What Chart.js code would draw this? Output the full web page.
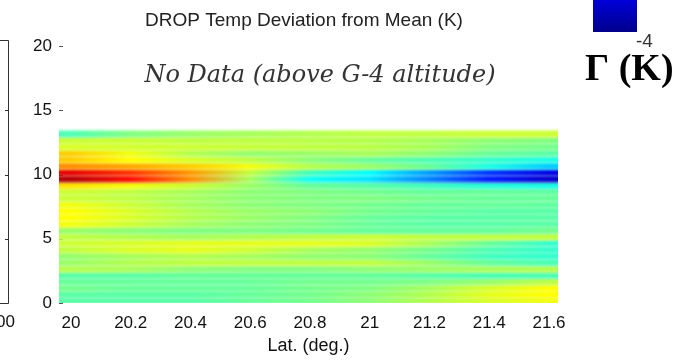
<!DOCTYPE html>
<html>
<head>
<meta charset="utf-8">
<script src="https://cdn.jsdelivr.net/npm/chart.js@4.4.1/dist/chart.umd.min.js"></script>
<style>
  html, body { margin: 0; padding: 0; background: #fff; }
  #wrap { width: 677px; height: 361px; position: relative; }
</style>
</head>
<body>
<div id="wrap"><canvas id="c"></canvas></div>
<script>
// latitude columns of the field (deg) and altitude rows (km, row centres)
const lats = [20.0, 20.2, 20.4, 20.6, 20.8, 21.0, 21.2, 21.4, 21.6];
const alts = [0.15, 0.65, 1.15, 1.65, 2.15, 2.65, 3.15, 3.65, 4.15, 4.65, 5.15, 5.65, 6.15,
              6.65, 7.15, 7.65, 8.15, 8.65, 9.15, 9.65, 10.15, 10.65, 11.15, 11.65, 12.15, 12.65, 13.15];

// temperature deviation from mean (K), one array per latitude, bottom -> top
const dev200 = [-0.3,-0.3,-0.1,-0.2,-0.3,0.4,0.2,0.15,0.5,0.6,0.5,0.2,0.9,1.0,1.0,0.9,0.6,0.6,1.2,3.6,3.2,1.9,1.4,1.4,0.7,0.6,-0.4];
const dev202 = [-0.3,-0.3,-0.2,-0.2,-0.3,0.3,0.4,0.3,0.7,0.7,0.4,0.1,0.6,0.7,0.7,0.6,0.5,0.5,0.9,2.9,2.6,1.7,1.0,0.9,0.65,0.6,0.0];
const dev204 = [-0.3,-0.3,-0.2,-0.2,-0.2,0.1,0.5,0.4,0.8,0.8,0.3,0.0,0.3,0.4,0.4,0.3,0.3,0.3,0.6,1.9,1.8,1.4,0.7,0.4,0.6,0.5,0.2];
const dev206 = [-0.2,-0.2,-0.2,-0.2,-0.2,0.0,0.5,0.3,0.6,0.8,0.4,0.0,0.1,0.2,0.2,0.1,0.1,0.1,0.2,0.3,0.5,0.9,0.5,0.15,0.55,0.5,0.3];
const dev208 = [-0.1,-0.1,-0.1,-0.1,-0.2,0.0,0.5,0.15,0.3,0.8,0.5,-0.1,0.0,0.0,0.1,0.0,0.0,0.0,-0.2,-0.9,-0.5,0.4,0.1,0.2,0.5,0.45,0.4];
const dev210 = [0.1,0.1,0.0,-0.1,-0.2,0.1,0.5,0.1,0.15,0.7,0.6,-0.2,-0.2,-0.2,-0.1,-0.1,0.0,-0.1,-0.3,-1.2,-1.0,0.2,-0.2,0.3,0.45,0.4,0.5];
const dev212 = [0.4,0.4,0.3,0.0,-0.3,0.2,0.2,-0.2,-0.1,0.3,0.5,-0.2,-0.3,-0.3,-0.2,-0.2,-0.1,-0.2,-0.5,-2.0,-1.8,-0.2,-0.4,0.1,0.3,0.3,0.5];
const dev214 = [0.7,0.8,0.7,0.2,-0.4,0.3,-0.2,-0.5,-0.4,-0.2,0.5,-0.2,-0.3,-0.3,-0.3,-0.2,-0.2,-0.2,-0.7,-2.8,-2.6,-0.8,-0.6,-0.2,0.0,0.1,0.6];
const dev216 = [0.9,1.0,1.0,0.5,-0.4,0.4,-0.4,-0.6,-0.6,-0.6,0.5,-0.1,-0.3,-0.3,-0.3,-0.25,-0.2,-0.25,-0.8,-3.4,-3.2,-1.4,-0.8,-0.3,-0.1,0.0,0.6];
const columns = [dev200, dev202, dev204, dev206, dev208, dev210, dev212, dev214, dev216];

const xTicks = [20, 20.2, 20.4, 20.6, 20.8, 21, 21.2, 21.4, 21.6];
const yTicks = [0, 5, 10, 15, 20];
const cmin = -4, cmax = 4;

function clamp01(v) { return Math.min(1, Math.max(0, v)); }
function jet(v) {
    const t = clamp01((v - cmin) / (cmax - cmin));
    const r = clamp01(1.5 - Math.abs(4 * t - 3));
    const g = clamp01(1.5 - Math.abs(4 * t - 2));
    const b = clamp01(1.5 - Math.abs(4 * t - 1));
    return `rgb(${Math.round(r * 255)},${Math.round(g * 255)},${Math.round(b * 255)})`;
}

function rowGradient(c) {
    if (c.type !== 'data') return 'transparent';
    const chart = c.chart;
    if (!chart.chartArea) return 'transparent';
    const xs = chart.scales.x;
    const x0 = xs.getPixelForValue(lats[0]);
    const x1 = xs.getPixelForValue(lats[lats.length - 1]);
    const g = chart.ctx.createLinearGradient(x0, 0, x1, 0);
    lats.forEach((lat, i) => {
        g.addColorStop(i / (lats.length - 1), jet(columns[i][c.dataIndex]));
    });
    return g;
}

const decor = {
    id: 'decor',
    beforeDatasetsDraw(chart) {
        const ctx = chart.ctx, ys = chart.scales.y, left = chart.chartArea.left;
        ctx.save();
        ctx.strokeStyle = '#555';
        ctx.lineWidth = 1;
        yTicks.forEach(v => {
            const y = Math.round(ys.getPixelForValue(v)) + 0.5;
            ctx.beginPath(); ctx.moveTo(left, y); ctx.lineTo(left + 4, y); ctx.stroke();
        });
        ctx.restore();
        ctx.save();
        ctx.filter = 'blur(1.5px)';
    },
    afterDatasetsDraw(chart) {
        chart.ctx.restore();
    },
    afterDraw(chart) {
        const ctx = chart.ctx, ys = chart.scales.y;
        ctx.save();
        ctx.fillStyle = '#222';
        ctx.textBaseline = 'middle';
        ctx.textAlign = 'center';
        ctx.font = '19px "Liberation Sans", Arial, sans-serif';
        ctx.fillText('DROP Temp Deviation from Mean (K)', 304, 21);

        ctx.font = 'italic 24px "DejaVu Serif", serif';
        ctx.fillStyle = '#333';
        ctx.fillText('No Data (above G-4 altitude)', 320, 76);

        // part of the colour bar at the top right
        const cb = ctx.createLinearGradient(0, 0, 0, 32);
        cb.addColorStop(0, jet(-3.3));
        cb.addColorStop(1, jet(-3.9));
        ctx.fillStyle = cb;
        ctx.fillRect(593, 0, 44, 32);
        ctx.fillStyle = '#333';
        ctx.textAlign = 'left';
        ctx.font = '19px "Liberation Sans Narrow", "Liberation Sans", sans-serif';
        ctx.fillText('-4', 636, 42);

        ctx.fillStyle = '#000';
        ctx.font = 'bold 38px "Liberation Serif", "Times New Roman", serif';
        ctx.fillText('Γ (K)', 585, 70);

        // right edge of the neighbouring panel
        ctx.strokeStyle = '#333';
        ctx.lineWidth = 1;
        const top = ys.getPixelForValue(20.5), bot = ys.getPixelForValue(0);
        ctx.beginPath();
        ctx.moveTo(0, Math.round(top) + 0.5);
        ctx.lineTo(8.5, Math.round(top) + 0.5);
        ctx.lineTo(8.5, Math.round(bot) + 0.5);
        ctx.lineTo(0, Math.round(bot) + 0.5);
        ctx.stroke();
        [5, 10, 15].forEach(v => {
            const y = Math.round(ys.getPixelForValue(v)) + 0.5;
            ctx.beginPath(); ctx.moveTo(5, y); ctx.lineTo(8.5, y); ctx.stroke();
        });
        ctx.fillStyle = '#111';
        ctx.textAlign = 'right';
        ctx.font = '17px "Liberation Sans", Arial, sans-serif';
        ctx.fillText('100', 15, 322);
        ctx.restore();
    }
};

new Chart(document.getElementById('c'), {
    type: 'bar',
    data: {
        datasets: [{
            data: alts.map(a => ({ y: a, x: [19.9, 21.7] })),
            backgroundColor: rowGradient,
            borderWidth: 0,
            barPercentage: 1,
            categoryPercentage: 1
        }]
    },
    options: {
        indexAxis: 'y',
        responsive: true,
        maintainAspectRatio: false,
        animation: false,
        layout: { padding: { left: 0, right: 119, top: 46, bottom: 0 } },
        plugins: { legend: { display: false }, tooltip: { enabled: false }, title: { display: false } },
        scales: {
            x: {
                type: 'linear',
                min: 19.96,
                max: 21.63,
                offset: false,
                grid: { display: false, drawTicks: false },
                border: { display: false },
                afterBuildTicks: s => { s.ticks = xTicks.map(v => ({ value: v })); },
                afterFit: s => { s.height = 58; },
                ticks: {
                    color: '#111',
                    padding: 10,
                    font: { family: '"Liberation Sans", Arial, sans-serif', size: 17 },
                    callback: v => String(Math.round(v * 10) / 10)
                },
                title: {
                    display: true,
                    text: 'Lat. (deg.)',
                    color: '#111',
                    padding: { top: 0, bottom: 4 },
                    font: { family: '"Liberation Sans", Arial, sans-serif', size: 18 }
                }
            },
            y: {
                type: 'linear',
                min: 0,
                max: 20,
                offset: false,
                grid: { display: false, drawTicks: false },
                border: { display: false },
                afterBuildTicks: s => { s.ticks = yTicks.map(v => ({ value: v })); },
                afterFit: s => { s.width = 59; },
                ticks: {
                    color: '#111',
                    padding: 7,
                    font: { family: '"Liberation Sans", Arial, sans-serif', size: 17 }
                }
            }
        }
    },
    plugins: [decor]
});
</script>
</body>
</html>
